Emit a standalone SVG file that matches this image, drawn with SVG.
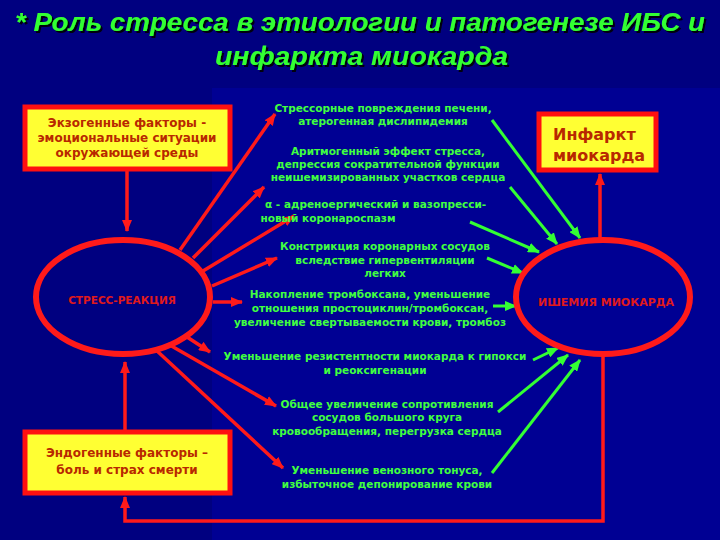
<svg xmlns="http://www.w3.org/2000/svg" width="720" height="540" viewBox="0 0 720 540">
<defs>
<marker id="ar" markerUnits="userSpaceOnUse" markerWidth="12" markerHeight="10" refX="11" refY="5" orient="auto"><path d="M0,0 L12,5 L0,10 z" fill="#ff1a1a"/></marker>
<marker id="ag" markerUnits="userSpaceOnUse" markerWidth="12" markerHeight="10" refX="11" refY="5" orient="auto"><path d="M0,0 L12,5 L0,10 z" fill="#33ff33"/></marker>
<filter id="sh" x="-5%" y="-20%" width="110%" height="150%"><feDropShadow dx="2" dy="2" stdDeviation="0.6" flood-color="#000010" flood-opacity="1"/></filter>
<style>
.title{font-family:"Liberation Sans","DejaVu Sans",sans-serif;font-weight:bold;font-style:italic;font-size:26px;fill:#33ff33;filter:url(#sh)}
.g{font-family:"DejaVu Sans","Liberation Sans",sans-serif;font-weight:bold;font-size:10.5px;fill:#40ff40;text-anchor:middle}
.box{fill:#ffff33;stroke:#ff1010;stroke-width:5}
.bt{font-family:"DejaVu Sans","Liberation Sans",sans-serif;font-weight:bold;font-size:12px;fill:#b82800;text-anchor:middle}
.el{fill:none;stroke:#ff1a1a;stroke-width:6}
.et{font-family:"DejaVu Sans","Liberation Sans",sans-serif;font-weight:bold;fill:#e01a1a;text-anchor:middle}
.r{stroke:#ff1a1a;stroke-width:3.5;fill:none}
.gr{stroke:#33ff33;stroke-width:3;fill:none}
</style>
</defs>
<rect x="0" y="0" width="720" height="540" fill="#000080"/>
<rect x="212" y="88" width="508" height="452" fill="#0000a0" opacity="0.6"/>

<g id="title">
<text class="title" x="15" y="31" textLength="690" lengthAdjust="spacingAndGlyphs">*  Роль стресса в этиологии и патогенезе ИБС и</text>
<text class="title" x="215" y="65" textLength="293" lengthAdjust="spacingAndGlyphs">инфаркта миокарда</text>
</g>

<g id="connectors">
<path class="r" d="M127,170 L127,231" marker-end="url(#ar)"/>
<path class="r" d="M125,431 L125,362" marker-end="url(#ar)"/>
<path class="r" d="M603,356 L603,521 L125,521 L125,497" marker-end="url(#ar)"/>
<path class="r" d="M600,238 L600,174" marker-end="url(#ar)"/>
<path class="r" d="M180,250 L275,114" marker-end="url(#ar)"/>
<path class="r" d="M193,258 L264,187" marker-end="url(#ar)"/>
<path class="r" d="M203,271 L294,216" marker-end="url(#ar)"/>
<path class="r" d="M212,286 L277,258" marker-end="url(#ar)"/>
<path class="r" d="M213,302 L242,302" marker-end="url(#ar)"/>
<path class="r" d="M187,337 L210,352" marker-end="url(#ar)"/>
<path class="r" d="M168,344 L276,406" marker-end="url(#ar)"/>
<path class="r" d="M156,350 L283,468" marker-end="url(#ar)"/>
<path class="gr" d="M492,120 L580,238" marker-end="url(#ag)"/>
<path class="gr" d="M510,187 L557,244" marker-end="url(#ag)"/>
<path class="gr" d="M470,222 L539,252" marker-end="url(#ag)"/>
<path class="gr" d="M487,258 L523,273" marker-end="url(#ag)"/>
<path class="gr" d="M493,306 L516,306" marker-end="url(#ag)"/>
<path class="gr" d="M533,360 L558,348" marker-end="url(#ag)"/>
<path class="gr" d="M498,412 L568,355" marker-end="url(#ag)"/>
<path class="gr" d="M492,473 L580,360" marker-end="url(#ag)"/>
</g>

<g id="exogenous">
<rect class="box" x="25" y="107" width="205" height="62"/>
<text class="bt" x="127" y="127">Экзогенные факторы -</text>
<text class="bt" x="127" y="142">эмоциональные ситуации</text>
<text class="bt" x="127" y="157">окружающей среды</text>
</g>

<g id="endogenous">
<rect class="box" x="25" y="432" width="205" height="61"/>
<text class="bt" x="127" y="457">Эндогенные факторы –</text>
<text class="bt" x="127" y="474">боль и страх смерти</text>
</g>

<g id="infarct">
<rect class="box" x="539" y="114" width="117" height="56"/>
<text class="bt" x="553" y="140" style="font-size:16px;text-anchor:start">Инфаркт</text>
<text class="bt" x="553" y="161" style="font-size:16px;text-anchor:start">миокарда</text>
</g>

<g id="stress">
<ellipse class="el" cx="123" cy="297" rx="87" ry="57"/>
<text class="et" x="122" y="304" style="font-size:10.5px">СТРЕСС-РЕАКЦИЯ</text>
</g>

<g id="ischemia">
<ellipse class="el" cx="603" cy="297" rx="87" ry="57"/>
<text class="et" x="606" y="306" style="font-size:11px">ИШЕМИЯ МИОКАРДА</text>
</g>

<g id="t1">
<text class="g" x="383" y="112">Стрессорные повреждения печени,</text>
<text class="g" x="383" y="125">атерогенная дислипидемия</text>
</g>
<g id="t2">
<text class="g" x="388" y="155">Аритмогенный эффект стресса,</text>
<text class="g" x="388" y="168">депрессия сократительной функции</text>
<text class="g" x="388" y="181">неишемизированных участков сердца</text>
</g>
<g id="t3">
<text class="g" x="265" y="208" style="text-anchor:start">α  - адреноергический и вазопресси-</text>
<text class="g" x="328" y="222">новый коронароспазм</text>
</g>
<g id="t4">
<text class="g" x="385" y="250">Констрикция коронарных сосудов</text>
<text class="g" x="385" y="264">вследствие гипервентиляции</text>
<text class="g" x="385" y="277">легких</text>
</g>
<g id="t5">
<text class="g" x="370" y="298">Накопление тромбоксана, уменьшение</text>
<text class="g" x="370" y="312">отношения простоциклин/тромбоксан,</text>
<text class="g" x="370" y="326">увеличение свертываемости крови, тромбоз</text>
</g>
<g id="t6">
<text class="g" x="375" y="360">Уменьшение резистентности миокарда к гипокси</text>
<text class="g" x="375" y="374">и реоксигенации</text>
</g>
<g id="t7">
<text class="g" x="387" y="408">Общее увеличение сопротивления</text>
<text class="g" x="387" y="421">сосудов большого круга</text>
<text class="g" x="387" y="435">кровообращения, перегрузка сердца</text>
</g>
<g id="t8">
<text class="g" x="387" y="474">Уменьшение венозного тонуса,</text>
<text class="g" x="387" y="488">избыточное депонирование крови</text>
</g>
</svg>
